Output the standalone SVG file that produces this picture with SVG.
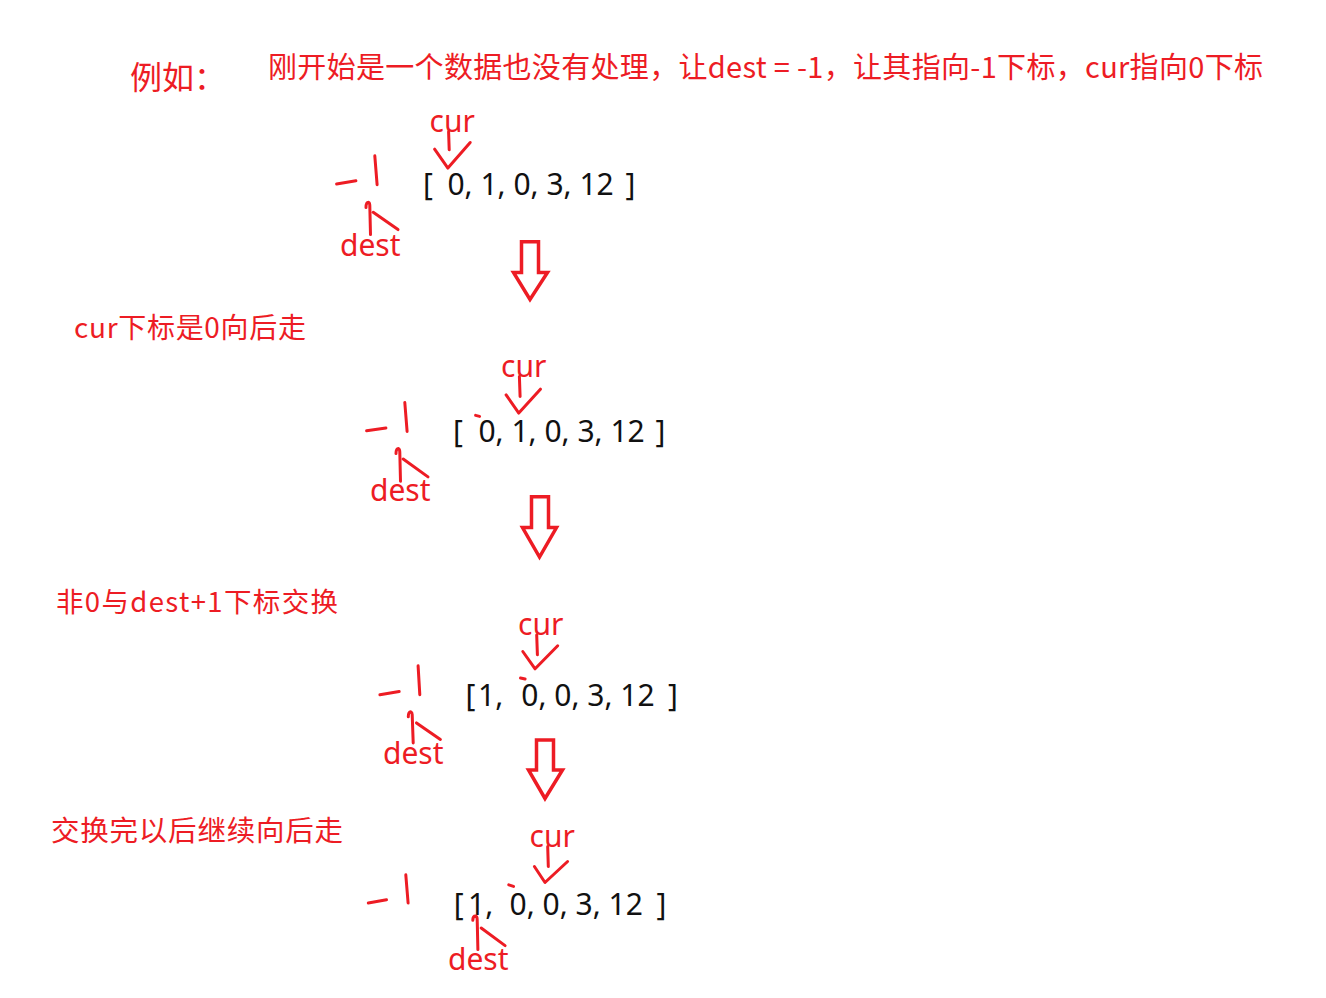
<svg xmlns="http://www.w3.org/2000/svg" width="1326" height="998" viewBox="0 0 1326 998">
<style>
.cn{fill:#ed1c24;font-family:"Noto Sans CJK SC","Noto Sans",sans-serif;}
.lbl{fill:#ed1c24;font-family:"Noto Sans","Liberation Sans",sans-serif;font-size:30px;}
.arr{fill:#111;font-family:"Noto Sans","Liberation Sans",sans-serif;font-size:30px;white-space:pre;}
.ink{fill:none;stroke:#ed1c24;stroke-width:3;stroke-linecap:round;stroke-linejoin:round;}
.blk{fill:#fff;stroke:#ed1c24;stroke-width:3.5;stroke-linejoin:miter;}
</style>
<rect width="1326" height="998" fill="#fff"/>

<g id="title">
<text class="cn" x="130" y="89" font-size="32">例如：</text>
<text class="cn" x="268" y="78" font-size="29" textLength="995" lengthAdjust="spacing" style="white-space:pre">刚开始是一个数据也没有处理，让dest = -1，让其指向-1下标，cur指向0下标</text>
</g>

<g id="note-cur-move">
<text class="cn" x="74" y="338" font-size="28" textLength="232" lengthAdjust="spacing">cur下标是0向后走</text>
</g>
<g id="note-swap">
<text class="cn" x="56" y="612" font-size="27.5" textLength="282" lengthAdjust="spacing">非0与dest+1下标交换</text>
</g>
<g id="note-continue">
<text class="cn" x="51" y="841" font-size="28.5" textLength="292" lengthAdjust="spacing">交换完以后继续向后走</text>
</g>

<g id="step1">
<text class="arr" y="195"><tspan x="423">[</tspan><tspan x="447.4">0, 1, 0, 3, 12</tspan><tspan x="625.4">]</tspan></text>
<text class="lbl" x="429.6" y="131.6">cur</text>
<path class="ink" d="M448.6 131.6 L449.2 149.8 M434.6 149.2 L447.9 168.1 L470.2 142.5"/>
<path class="ink" d="M336.6 184 L355.9 180.7 M374.8 155.8 L377.1 184.7 M366 207.5 Q366 202.5 368.5 202.3 Q369.8 202.8 369.8 205.6 L370.5 234.6 M373.2 212.3 L398 229.6"/>
<text class="lbl" x="340" y="255.5">dest</text>
</g>

<g id="step2">
<text class="arr" y="441.5"><tspan x="453">[</tspan><tspan x="478.4">0, 1, 0, 3, 12</tspan><tspan x="655.4">]</tspan></text>
<text class="lbl" x="501" y="376.6">cur</text>
<path class="ink" d="M519.4 376.6 L520.1 396.5 M506.1 394.9 L518.8 413.1 L540.4 389.2"/>
<path class="ink" d="M475.6 415.4 L479.6 416.4" stroke-width="2.5"/>
<path class="ink" d="M366.6 430.7 L385.9 428 M404.8 402.5 L407.1 431.4 M396 453.5 Q396 448.8 398.5 448.6 Q399.8 449.2 399.8 452.3 L400.5 481.2 M403.2 459 L428 476.9"/>
<text class="lbl" x="370" y="501">dest</text>
</g>

<g id="step3">
<text class="arr" y="705.5"><tspan x="465.5">[</tspan><tspan x="478.1">1,</tspan><tspan x="521.3">0, 0, 3, 12</tspan><tspan x="668.1">]</tspan></text>
<text class="lbl" x="518" y="635">cur</text>
<path class="ink" d="M536.7 634.9 L537.4 654.8 M522.8 651.5 L535.1 668.8 L557.7 645.8"/>
<path class="ink" d="M520.5 678 L525.1 679" stroke-width="2.5"/>
<path class="ink" d="M379.9 694.7 L399.2 691.4 M418.1 665.8 L419.8 694.7 M408.3 716.8 Q408.3 712 410.8 711.8 Q412.2 712.4 412.2 714.6 L413.2 742.9 M416.5 722.9 L440.4 739.5"/>
<text class="lbl" x="383" y="764.4">dest</text>
</g>

<g id="step4">
<text class="arr" y="915"><tspan x="453.8">[</tspan><tspan x="468.1">1,</tspan><tspan x="509.5">0, 0, 3, 12</tspan><tspan x="656.4">]</tspan></text>
<text class="lbl" x="529.5" y="846.6">cur</text>
<path class="ink" d="M547.7 846.6 L548.3 866.5 M534.4 866.5 L545 882.5 L567.6 861.5"/>
<path class="ink" d="M508.8 884.8 L513.5 886.4" stroke-width="2.5"/>
<path class="ink" d="M368.3 903 L386.5 899.7 M405.8 874.8 L408.1 903 M472.8 920.2 Q472.8 916 475.6 916 Q477.2 916.6 477.2 919.7 L477.9 949.6 M481.2 928 L505.1 945.6"/>
<text class="lbl" x="448" y="969.5">dest</text>
</g>

<g id="connectors">
<path class="blk" d="M521.5 241.7 L538.5 241.7 L538.5 272.5 L547.5 272.5 L530 299.5 L513.5 272.5 L521.5 272.5 Z"/>
<path class="blk" d="M531.5 496.7 L548.5 496.7 L548.5 527.5 L556.5 527.5 L539.5 557 L522.5 527.5 L531.5 527.5 Z"/>
<path class="blk" d="M536.5 740 L553.5 740 L553.5 770 L562.5 770 L545 798.5 L528.5 770 L536.5 770 Z"/>
</g>
</svg>
